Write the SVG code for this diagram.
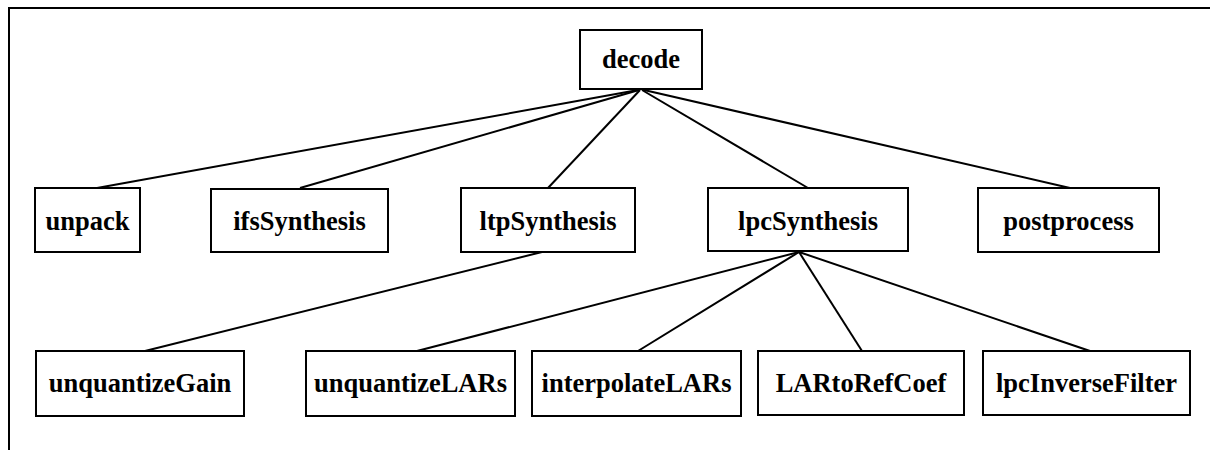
<svg xmlns="http://www.w3.org/2000/svg" width="1210" height="450" viewBox="0 0 1210 450">
<style>
.box{fill:#fff;stroke:#000;stroke-width:2}
.lbl{font-family:'Liberation Serif','Times New Roman',Times,serif;font-size:26.5px;font-weight:bold;fill:#000;text-anchor:middle}
.edge{stroke:#000;stroke-width:2;fill:none}
.frame{stroke:#000;stroke-width:2;fill:none}
</style>
<rect width="1210" height="450" fill="#fff"/>
<path class="frame" d="M9,450 V8 H1210"/>
<g id="connectors">
<line class="edge" x1="638" y1="90" x2="97" y2="188"/>
<line class="edge" x1="639" y1="90" x2="300" y2="188"/>
<line class="edge" x1="640" y1="90" x2="548" y2="188"/>
<line class="edge" x1="642" y1="90" x2="808" y2="188"/>
<line class="edge" x1="644" y1="90" x2="1070" y2="188"/>
<line class="edge" x1="542" y1="252" x2="145" y2="351"/>
<line class="edge" x1="799" y1="252" x2="417" y2="351"/>
<line class="edge" x1="799" y1="252" x2="638" y2="351"/>
<line class="edge" x1="799" y1="252" x2="862" y2="351"/>
<line class="edge" x1="799" y1="252" x2="1090" y2="351"/>
</g>
<g id="decode"><rect class="box" x="580" y="30" width="122" height="59"/><text class="lbl" x="641" y="68" font-family="Liberation Serif">decode</text></g>
<g id="unpack"><rect class="box" x="35" y="188" width="105" height="64"/><text class="lbl" x="87.5" y="230" font-family="Liberation Serif">unpack</text></g>
<g id="ifsSynthesis"><rect class="box" x="211" y="189" width="177" height="63"/><text class="lbl" x="299.5" y="230" font-family="Liberation Serif">ifsSynthesis</text></g>
<g id="ltpSynthesis"><rect class="box" x="461" y="188" width="174" height="64"/><text class="lbl" x="548" y="230" font-family="Liberation Serif">ltpSynthesis</text></g>
<g id="lpcSynthesis"><rect class="box" x="708" y="188" width="200" height="63"/><text class="lbl" x="808" y="230" font-family="Liberation Serif">lpcSynthesis</text></g>
<g id="postprocess"><rect class="box" x="978" y="188" width="181" height="64"/><text class="lbl" x="1068.5" y="230" font-family="Liberation Serif">postprocess</text></g>
<g id="unquantizeGain"><rect class="box" x="36" y="351" width="208" height="65"/><text class="lbl" x="140" y="392" font-family="Liberation Serif">unquantizeGain</text></g>
<g id="unquantizeLARs"><rect class="box" x="306" y="351" width="209" height="65"/><text class="lbl" x="410.5" y="392" font-family="Liberation Serif">unquantizeLARs</text></g>
<g id="interpolateLARs"><rect class="box" x="532" y="351" width="209" height="65"/><text class="lbl" x="636.5" y="392" font-family="Liberation Serif">interpolateLARs</text></g>
<g id="LARtoRefCoef"><rect class="box" x="758" y="351" width="206" height="64"/><text class="lbl" x="861" y="392" font-family="Liberation Serif">LARtoRefCoef</text></g>
<g id="lpcInverseFilter"><rect class="box" x="983" y="351" width="207" height="64"/><text class="lbl" x="1086.5" y="392" font-family="Liberation Serif">lpcInverseFilter</text></g>
</svg>
